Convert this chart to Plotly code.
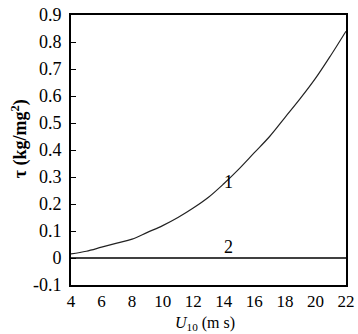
import plotly.graph_objects as go

u10 = [4, 5, 6, 7, 8, 9, 10, 11, 12, 13, 14, 15, 16, 17, 18, 19, 20, 21, 22]
tau1 = [0.015, 0.025, 0.04, 0.055, 0.07, 0.095, 0.12, 0.15, 0.185, 0.225, 0.275, 0.33, 0.39, 0.45, 0.52, 0.59, 0.665, 0.75, 0.84]
line2_x = [4, 22]
line2_y = [0, 0]
x_ticks = [4, 6, 8, 10, 12, 14, 16, 18, 20, 22]
y_ticks = [-0.1, 0, 0.1, 0.2, 0.3, 0.4, 0.5, 0.6, 0.7, 0.8, 0.9]
y_tick_labels = ["-0.1", "0", "0.1", "0.2", "0.3", "0.4", "0.5", "0.6", "0.7", "0.8", "0.9"]

FONT = "Liberation Serif, Times New Roman, serif"

fig = go.Figure()
fig.add_trace(go.Scatter(x=u10, y=tau1, mode="lines", line=dict(color="#222", width=1.2, shape="spline"), showlegend=False))
fig.add_trace(go.Scatter(x=line2_x, y=line2_y, mode="lines", line=dict(color="black", width=1.6), showlegend=False))

fig.add_annotation(x=14.3, y=0.28, text="1", showarrow=False, font=dict(family=FONT, size=18, color="black"))
fig.add_annotation(x=14.3, y=0.042, text="2", showarrow=False, font=dict(family=FONT, size=18, color="black"))
fig.add_annotation(xref="paper", yref="paper", x=-0.185, y=0.54, xanchor="center", yanchor="middle",
                   text="<b>τ (kg/mg<sup>2</sup>)</b>",
                   textangle=-90, showarrow=False, font=dict(family=FONT, size=18, color="black"))
fig.add_annotation(xref="paper", yref="paper", x=0.487, y=-0.18, xanchor="center", yanchor="bottom",
                   text="<i>U</i><sub>10</sub> (m s)", borderpad=0,
                   showarrow=False, font=dict(family=FONT, size=16, color="black"))

fig.update_layout(
    width=358, height=334, autosize=False,
    margin=dict(l=71, r=12, t=15, b=49, autoexpand=False),
    plot_bgcolor="white", paper_bgcolor="white",
    font=dict(family=FONT, size=18, color="black"),
)
fig.update_xaxes(
    range=[4, 22], tickvals=x_ticks, ticks="", showgrid=False, zeroline=False, automargin=False,
    ticklabelstandoff=0, tickfont=dict(size=17),
    showline=True, linecolor="black", linewidth=2, mirror=True,
)
fig.update_yaxes(
    range=[-0.1, 0.9], tickvals=y_ticks, ticktext=y_tick_labels, automargin=False,
    ticks="inside", ticklen=5, tickwidth=1, tickcolor="black", ticklabelstandoff=4,
    showgrid=False, zeroline=False,
    showline=True, linecolor="black", linewidth=2, mirror=True,
)
fig.write_html("out.html")
